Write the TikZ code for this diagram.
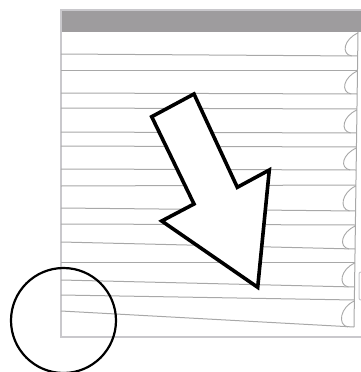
\documentclass[tikz,border=0pt]{standalone}
\usepackage{tikz}
\usetikzlibrary{calc}
\definecolor{padgray}{HTML}{9E9C9E}
\definecolor{edgegray}{HTML}{C9C8CC}
\definecolor{rulegray}{HTML}{A8A8A8}
\tikzset{
  padborder/.style={draw=edgegray, line width=2.6pt},
  padheader/.style={fill=padgray},
  rowline/.style={draw=rulegray, line width=1pt},
  curl/.style={draw=rulegray, line width=0.9pt},
  bigarrow/.style={draw=black, fill=white, line width=3.6pt, line join=miter},
  lens/.style={draw=black, line width=2.2pt},
}
\begin{document}
\begin{tikzpicture}[x=1pt, y=-1pt]
    \useasboundingbox (0,0) rectangle (361,372);
    %% notepad sheet
    \fill[white] (61,10) rectangle (375,337);
    \fill[padheader] (61,11) rectangle (375,32);
    \draw[padborder] (375,10) -- (61,10) -- (61,337) -- (375,337);
    %% rows (left end / right end)
    \foreach \yl/\yr in {54/56,70/70,93/94,108/109,132/133,146/147,169/170,
                         186/185,208/211,224/225,242/249,262/262,280/287,
                         295/300,311/327}{
      \pgfmathsetmacro{\xr}{358-4*(\yr-32)/295}
      \draw[rowline] (61,\yl) -- (\xr,\yr);
    }
    %% curled tabs
    \foreach \yt/\yb in {32/56,70/94,109/133,147/170,185/211,225/249,262/287,300/327}{
      \pgfmathsetmacro{\xt}{358-4*(\yt-32)/295}
      \pgfmathsetmacro{\xb}{358-4*(\yb-32)/295}
      \draw[curl] (\xt,\yt+1) .. controls (\xt-14,\yt+7) and (\xb-17,\yb-2) .. (\xb-6,\yb);
    }
    %% right edge of rows
    \draw[rowline] (358,32) -- (354,327);
    \draw[draw=edgegray, line width=1pt, rounded corners=2pt]
      (366,272) -- (359,272) -- (359,300) -- (366,300);
    %% arrow
    \draw[bigarrow] (151.7,116.7) -- (194,94) -- (237.3,187.3) -- (269.3,170)
      -- (257.7,287.3) -- (161.7,221) -- (194,204) -- cycle;
    %% magnifier circle
    \draw[lens] (63.5,320.5) circle (52.5);
\end{tikzpicture}
\end{document}
